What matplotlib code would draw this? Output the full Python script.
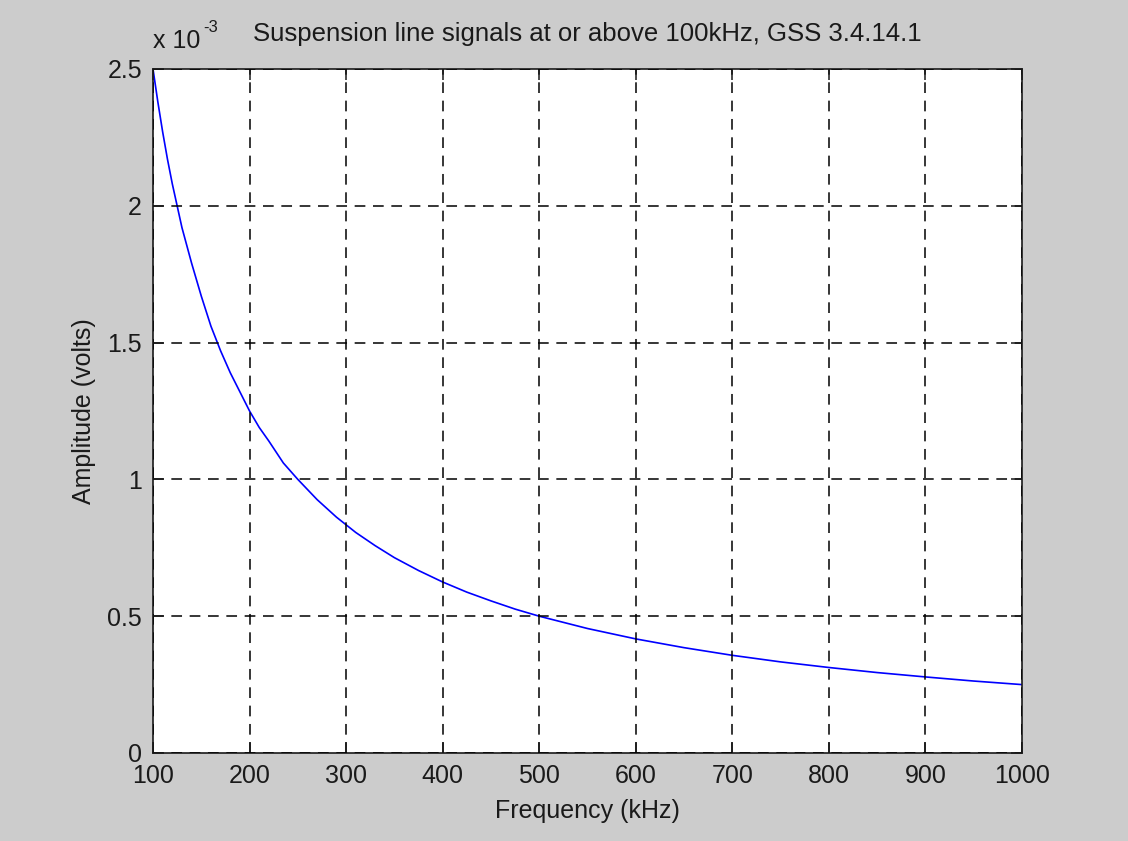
import numpy as np
import matplotlib
matplotlib.use('Agg')
import matplotlib.pyplot as plt
from matplotlib.ticker import FuncFormatter

plt.rcParams['font.family'] = ['Liberation Sans', 'DejaVu Sans']

# values (frequency in kHz, amplitude in millivolts)
freq_khz = [100, 105, 110, 115, 120, 125, 130, 140, 150, 160, 170, 180, 190, 200,
            210, 220, 235, 250, 270, 290, 310, 330, 350, 375, 400, 425, 450, 475, 500,
            550, 600, 650, 700, 750, 800, 850, 900, 950, 1000]
amp_mv = [2.50, 2.38, 2.27, 2.17, 2.08, 2.00, 1.92, 1.79, 1.67, 1.56, 1.47, 1.39,
          1.32, 1.25, 1.19, 1.14, 1.06, 1.00, 0.926, 0.862, 0.806, 0.758, 0.714, 0.667,
          0.625, 0.588, 0.556, 0.526, 0.50, 0.455, 0.417, 0.385, 0.357, 0.333,
          0.3125, 0.294, 0.278, 0.263, 0.25]
amp_v = np.array(amp_mv) * 1e-3

xticks = [100, 200, 300, 400, 500, 600, 700, 800, 900, 1000]
yticks = [0, 0.5e-3, 1e-3, 1.5e-3, 2e-3, 2.5e-3]

W, H = 1128, 841
dpi = 100
fig = plt.figure(figsize=(W/dpi, H/dpi), dpi=dpi, facecolor='#cccccc')
left, right, top, bottom = 153, 1022, 69, 753
ax = fig.add_axes([left/W, 1 - bottom/H, (right-left)/W, (bottom-top)/H])
ax.set_facecolor('white')

ax.plot(freq_khz, amp_v, color='#0000ff', lw=1.2)

ax.set_xlim(100, 1000)
ax.set_ylim(0, 2.5e-3)
ax.set_xticks(xticks)
ax.set_yticks(yticks)
ax.yaxis.set_major_formatter(FuncFormatter(lambda v, p: '%g' % round(v*1e3, 4)))

ax.grid(True, color='black', linestyle=(0, (7, 5)), lw=1.1)
ax.set_axisbelow(False)
ax.tick_params(direction='in', length=8, width=1.1, top=True, right=True,
               labelsize=18, colors='#1a1a1a', pad=8)
for s in ax.spines.values():
    s.set_linewidth(1.2)
    s.set_color('#1a1a1a')

ax.set_title('Suspension line signals at or above 100kHz, GSS 3.4.14.1',
             fontsize=18.5, pad=20, color='#1a1a1a')
ax.set_xlabel('Frequency (kHz)', fontsize=18, color='#1a1a1a')
ax.set_ylabel('Amplitude (volts)', fontsize=18, color='#1a1a1a')
ax.xaxis.set_label_coords(0.5, -(811 - bottom)/(bottom - top))
ax.xaxis.label.set_va('center')
ax.yaxis.set_label_coords(-(left - 84)/(right - left), 0.5)
ax.yaxis.label.set_va('center')

# exponent marker, MATLAB style
fig.text(left/W, 1 - 48/H, 'x 10', fontsize=18, ha='left', va='baseline',
         color='#1a1a1a')
fig.text(203/W, 1 - 32/H, '-3', fontsize=12, ha='left', va='baseline',
         color='#1a1a1a')

fig.savefig('out.png', dpi=dpi, facecolor=fig.get_facecolor())
